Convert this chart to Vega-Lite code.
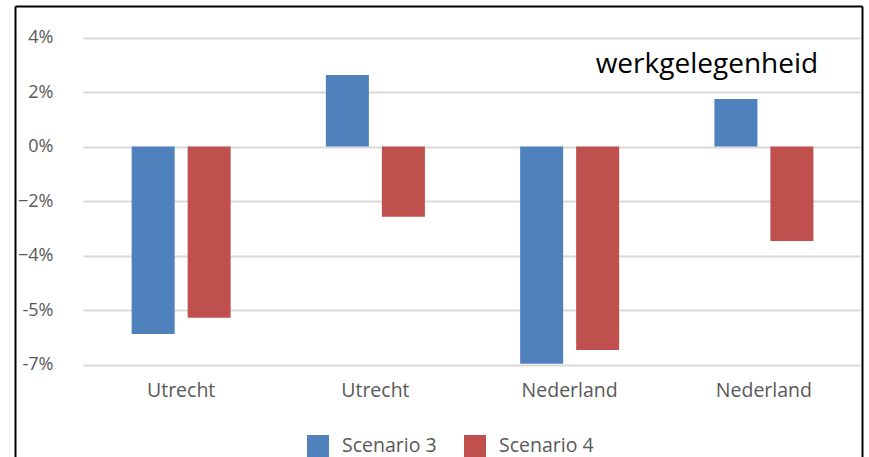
{
  "$schema": "https://vega.github.io/schema/vega-lite/v6.json",
  "autosize": {"type": "none"},
  "padding": {"left": 15, "top": 6, "right": 7, "bottom": 0},
  "width": 847,
  "height": 451,
  "background": "white",
  "config": {
    "font": "Open Sans",
    "view": {"stroke": null},
    "axis": {"labelFont": "Open Sans", "labelColor": "#595959", "labelFontSize": 18}
  },
  "resolve": {"axis": {"x": "independent", "y": "independent"}},
  "layer": [
    {
      "data": {
        "values": [
          {"group": "Utrecht 1", "scenario": "Scenario 3", "value": -0.0688},
          {"group": "Utrecht 1", "scenario": "Scenario 4", "value": -0.0628},
          {"group": "Utrecht 2", "scenario": "Scenario 3", "value": 0.0262},
          {"group": "Utrecht 2", "scenario": "Scenario 4", "value": -0.0258},
          {"group": "Nederland 1", "scenario": "Scenario 3", "value": -0.0797},
          {"group": "Nederland 1", "scenario": "Scenario 4", "value": -0.0747},
          {"group": "Nederland 2", "scenario": "Scenario 3", "value": 0.0174},
          {"group": "Nederland 2", "scenario": "Scenario 4", "value": -0.0347}
        ]
      },
      "mark": {"type": "bar"},
      "encoding": {
        "x": {
          "field": "group", "type": "nominal", "sort": null,
          "scale": {"paddingInner": 0, "paddingOuter": 0.1802, "align": 0.986},
          "axis": {
            "orient": "bottom", "title": null, "domain": false, "ticks": false,
            "labelAngle": 0, "labelPadding": 0, "offset": -76, "labelBaseline": "top",
            "labelFontSize": 19.5,
            "labelExpr": "split(datum.value, ' ')[0]"
          }
        },
        "xOffset": {
          "field": "scenario", "type": "nominal",
          "scale": {"paddingInner": 0.232, "paddingOuter": 0.85, "align": 0.5}
        },
        "y": {
          "field": "value", "type": "quantitative",
          "scale": {"domain": [-0.11394, 0.05156], "nice": false, "zero": false},
          "axis": {
            "orient": "left", "title": null,
            "values": [0.04, 0.02, 0, -0.02, -0.04, -0.06, -0.08],
            "labelExpr": "datum.value < -0.07 ? '-7%' : (datum.value < -0.05 ? '-5%' : format(datum.value, '.0%'))",
            "ticks": false, "tickSize": 0, "labelPadding": -38,
            "domain": true, "domainColor": "#000000", "domainWidth": 2,
            "grid": true, "gridColor": "#d9d9d9", "gridWidth": 2,
            "gridDash": [0, 68, 777, 100],
            "labelBaseline": "middle"
          }
        },
        "color": {
          "field": "scenario", "type": "nominal",
          "scale": {"domain": ["Scenario 3", "Scenario 4"], "range": ["#4f81bd", "#c0504d"]},
          "legend": {
            "title": null, "orient": "none", "direction": "horizontal",
            "legendX": 292, "legendY": 429, "padding": 0,
            "symbolType": "square", "symbolSize": 484, "symbolStrokeWidth": 0,
            "labelFont": "Open Sans", "labelFontSize": 19.5, "labelColor": "#595959",
            "labelOffset": 13, "columnPadding": 27
          }
        }
      }
    },
    {
      "data": {"values": [{"label": "werkgelegenheid"}]},
      "mark": {"type": "text", "font": "Open Sans", "fontSize": 28, "fontWeight": "normal", "fill": "#000000", "dx": -57, "align": "center", "baseline": "middle"},
      "encoding": {
        "x": {
          "datum": "Nederland 2", "type": "nominal",
          "axis": {"orient": "top", "title": null, "labels": false, "ticks": false, "grid": false, "domain": true, "domainColor": "#000000", "domainWidth": 2}
        },
        "y": {
          "datum": 0.03, "type": "quantitative",
          "axis": {"orient": "right", "title": null, "labels": false, "ticks": false, "grid": false, "domain": true, "domainColor": "#000000", "domainWidth": 2}
        },
        "text": {"field": "label", "type": "nominal"}
      }
    }
  ]
}
